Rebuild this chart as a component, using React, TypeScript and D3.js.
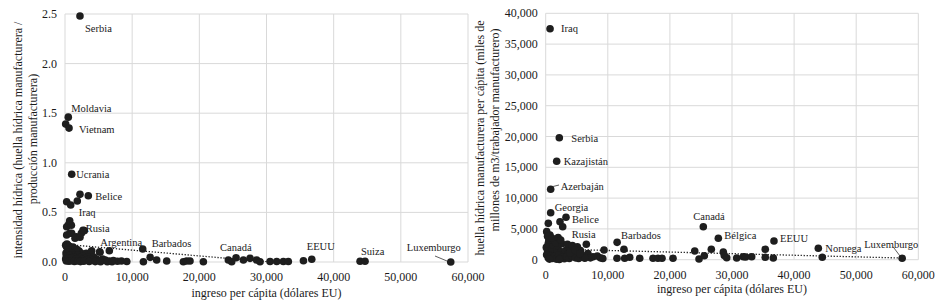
import React from 'react';
import * as d3 from 'd3';

// ---------- DATA ----------
const xTicks = [0, 10000, 20000, 30000, 40000, 50000, 60000];
const leftYTicks = [0, 0.5, 1.0, 1.5, 2.0, 2.5];
const rightYTicks = [0, 5000, 10000, 15000, 20000, 25000, 30000, 35000, 40000];

// Left chart: intensidad hídrica
const leftLabelNames = ['Serbia', 'Moldavia', 'Vietnam', 'Ucrania', 'Belice', 'Iraq', 'Rusia', 'Argentina', 'Barbados', 'Canadá', 'EEUU', 'Suiza', 'Luxemburgo'];
const leftLabelIncome = [2230, 490, 600, 1000, 3470, 700, 2870, 6600, 11570, 25470, 36740, 44670, 57430];
const leftLabelValue = [2.48, 1.46, 1.35, 0.885, 0.668, 0.415, 0.316, 0.114, 0.131, 0.043, 0.027, 0.007, 0.0];
const leftOtherPoints: [number, number][] = [
  [100, 1.39], [2230, 0.682], [1830, 0.615], [250, 0.608], [850, 0.575],
  [550, 0.38], [250, 0.356], [950, 0.37],
  [250, 0.272], [700, 0.29], [1000, 0.29], [1490, 0.239], [1680, 0.255], [2230, 0.249], [2430, 0.29], [2680, 0.32],
  [3970, 0.114], [5210, 0.098],
  [100, 0.17], [300, 0.18], [500, 0.165], [250, 0.15], [700, 0.155], [900, 0.14], [1200, 0.15], [1500, 0.13],
  [400, 0.12], [1800, 0.125], [2100, 0.11], [2430, 0.088], [3170, 0.088], [3920, 0.104], [5160, 0.104], [1680, 0.104],
  [150, 0.09], [600, 0.1], [1100, 0.085], [1400, 0.07], [1900, 0.07], [2700, 0.06], [3400, 0.05], [4300, 0.05],
  [200, 0.06], [700, 0.065], [1300, 0.05], [2200, 0.045], [3000, 0.035], [3700, 0.03], [4700, 0.03], [5600, 0.03],
  [100, 0.03], [450, 0.035], [900, 0.04], [1600, 0.03], [2500, 0.025], [3300, 0.02], [4100, 0.015], [5000, 0.012],
  [6000, 0.02], [6600, 0.01], [7200, 0.015], [7800, 0.008], [8400, 0.01], [9200, 0.005],
  [200, 0.01], [600, 0.008], [1000, 0.012], [1400, 0.005], [1900, 0.01], [2300, 0.004], [2800, 0.008], [3600, 0.005],
  [4500, 0.004], [5300, 0.003], [6300, 0.003], [7000, 0.002],
  [11670, 0.003], [12680, 0.047], [13650, 0.02], [15140, 0.01], [17620, 0.003], [18110, 0.01], [18610, 0.01], [20600, 0.003],
  [24320, 0.02], [24820, 0.003], [26560, 0.02], [27550, 0.037], [28540, 0.02], [29040, 0.003],
  [30530, 0.005], [31520, 0.005], [32510, 0.005], [33250, 0.005], [35500, 0.013], [43930, 0.007],
];
const leftTrend: [number, number][] = [[0, 0.178], [30500, 0]];

// Right chart: huella hídrica manufacturera per cápita
const rightLabelNames = ['Iraq', 'Serbia', 'Kazajistán', 'Azerbaján', 'Georgia', 'Belice', 'Rusia', 'Barbados', 'Canadá', 'Bélgica', 'EEUU', 'Noruega', 'Luxemburgo'];
const rightLabelIncome = [700, 2190, 1770, 800, 800, 3270, 2420, 11500, 25380, 27800, 36760, 43900, 57400];
const rightLabelValue = [37500, 19800, 15970, 11430, 7630, 6880, 3200, 2820, 5360, 3470, 3040, 1850, 230];
const rightOtherPoints: [number, number][] = [
  [420, 5900], [2300, 6170], [2740, 5360], [160, 4550], [690, 4000], [420, 2660], [970, 1850], [900, 2920],
  [6540, 2500], [9390, 1570], [12600, 1690], [7620, 490], [8310, 600],
  [11480, 230], [12720, 230], [13530, 390], [15140, 230], [17280, 230], [18080, 230], [18730, 230], [20500, 230],
  [24000, 1410], [24690, 110], [25540, 650], [26670, 1690], [28600, 1250], [28760, 700], [29150, 320],
  [30760, 280], [31820, 490], [32200, 440], [33170, 490], [35360, 1690], [35360, 390], [36650, 280], [44540, 390],
  [100, 2000], [300, 1500], [500, 2500], [700, 1200], [1000, 1800], [1200, 2400], [1500, 1000], [1800, 1600],
  [2000, 2200], [2500, 1300], [2800, 800], [3200, 1500], [3600, 900], [4000, 1800], [4500, 1200], [5000, 700],
  [5600, 1500], [6000, 400], [6800, 1000], [7200, 300], [150, 800], [400, 300], [800, 600], [1100, 200],
  [1400, 500], [1700, 100], [2100, 700], [2400, 300], [2700, 400], [3000, 150], [3400, 500], [3800, 200],
  [4200, 600], [4800, 300], [5300, 200], [5800, 800], [6300, 250], [8800, 300], [9200, 200], [500, 3200],
  [1300, 3100], [1600, 2800], [2600, 2600], [3500, 2500], [4300, 2300], [5100, 2100], [600, 100], [2200, 50],
  [3900, 1100], [4700, 1600], [5500, 1000], [300, 3800], [1000, 3500], [2000, 3600],
];
const rightTrend: [number, number][] = [[0, 1760], [57400, 270]];

// ---------- LAYOUT / STYLE ----------
const FONT = "'Liberation Serif', 'DejaVu Serif', serif";
const GRID = '#d9d9d9';
const DOT = '#1e1e1e';
const R = 3.8;

const leftLabelOffsets: Record<string, [number, number]> = {
  Serbia: [5, 16], Moldavia: [3, -5], Vietnam: [10, 5], Ucrania: [4.5, 3.5], Belice: [7, 4],
  Iraq: [9, -4.5], Rusia: [1.5, 1.5], Argentina: [-9, -5], Barbados: [9, -2.5], 'Canadá': [-16, -7],
  EEUU: [-5, -9], Suiza: [-4, -6.5], Luxemburgo: [-44, -11],
};
const rightLabelOffsets: Record<string, [number, number]> = {
  Iraq: [11, 3.5], Serbia: [12, 4], 'Kazajistán': [7, 4], 'Azerbaján': [10, 0.5], Georgia: [4, -2],
  Belice: [6, 6], Rusia: [11, -1.5], Barbados: [4, -3], 'Canadá': [-10, -7], 'Bélgica': [6, 1],
  EEUU: [6, 1], Noruega: [7, 3.5], Luxemburgo: [-38, -10.5],
};

type ChartProps = {
  x0: number; x1: number; yTop: number; yBottom: number;
  yTicks: number[]; yMax: number; yFormat: (v: number) => string;
  names: string[]; incomes: number[]; values: number[]; others: [number, number][];
  trend: [number, number][]; offsets: Record<string, [number, number]>;
  titleLines: { text: string; x: number; cy: number }[];
  xTitleY: number;
  leaders: { name: string; from: [number, number]; to: [number, number] }[];
};

const txt = { fontFamily: FONT };

function Chart(p: ChartProps) {
  const x = d3.scaleLinear().domain([0, 60000]).range([p.x0, p.x1]);
  const y = d3.scaleLinear().domain([0, p.yMax]).range([p.yBottom, p.yTop]);
  const fmtX = d3.format(',');
  const line = d3.line<[number, number]>().x(d => x(d[0])).y(d => y(d[1]));
  const clipId = `clip-${Math.round(p.x0)}`;
  return (
    <g style={txt} fill="#1a1a1a">
      <defs>
        <clipPath id={clipId}>
          <rect x={p.x0} y={p.yTop} width={p.x1 - p.x0} height={p.yBottom - p.yTop} />
        </clipPath>
      </defs>
      {p.yTicks.map(t => (
        <line key={'h' + t} x1={p.x0} x2={p.x1} y1={y(t)} y2={y(t)} stroke={GRID} strokeWidth={1} />
      ))}
      {xTicks.map(t => (
        <line key={'v' + t} x1={x(t)} x2={x(t)} y1={p.yTop} y2={p.yBottom} stroke={GRID} strokeWidth={1} />
      ))}
      {p.yTicks.map(t => (
        <text key={'yl' + t} style={txt} x={p.x0 - 8} y={y(t) + 4} textAnchor="end" fontSize={12}>{p.yFormat(t)}</text>
      ))}
      {xTicks.map(t => (
        <text key={'xl' + t} style={txt} x={x(t)} y={p.yBottom + 19} textAnchor="middle" fontSize={12}>{fmtX(t)}</text>
      ))}
      <text style={txt} x={(p.x0 + p.x1) / 2} y={p.xTitleY} textAnchor="middle" fontSize={12}>ingreso per cápita (dólares EU)</text>
      {p.titleLines.map((l, i) => (
        <text key={'t' + i} style={txt} transform={`translate(${l.x},${l.cy}) rotate(-90)`} textAnchor="middle" fontSize={12}>{l.text}</text>
      ))}
      <path d={line(p.trend) || ''} fill="none" stroke="#222" strokeWidth={1.3} strokeDasharray="1.3,1.7" clipPath={`url(#${clipId})`} />
      {p.others.map((d, i) => (
        <circle key={'o' + i} cx={x(d[0])} cy={y(d[1])} r={R} fill={DOT} />
      ))}
      {p.names.map((n, i) => (
        <circle key={'c' + n} cx={x(p.incomes[i])} cy={y(p.values[i])} r={R} fill={DOT} />
      ))}
      {p.leaders.map(l => (
        <line key={'ld' + l.name} x1={l.from[0]} y1={l.from[1]} x2={l.to[0]} y2={l.to[1]} stroke="#333" strokeWidth={0.8} />
      ))}
      {p.names.map((n, i) => {
        const o = p.offsets[n] || [5, 0];
        return (
          <text key={'n' + n} style={txt} x={x(p.incomes[i]) + o[0]} y={y(p.values[i]) + o[1]} fontSize={10.5}>{n}</text>
        );
      })}
    </g>
  );
}

export default function App() {
  return (
    <svg width={942} height={303} style={{ position: 'absolute', left: 0, top: 0, background: '#fff' }}>
      <rect width={942} height={303} fill="#fff" />
      <Chart
        x0={65} x1={468} yTop={14} yBottom={262}
        yTicks={leftYTicks} yMax={2.5} yFormat={d3.format('.1f')}
        names={leftLabelNames} incomes={leftLabelIncome} values={leftLabelValue} others={leftOtherPoints}
        trend={leftTrend} offsets={leftLabelOffsets}
        titleLines={[
          { text: 'intensidad hídrica (huella hídrica manufacturera /', x: 22, cy: 140 },
          { text: 'producción manufacturera)', x: 37, cy: 139 },
        ]}
        xTitleY={297}
        leaders={[{ name: 'lux', from: [435, 256], to: [447, 261] }]}
      />
      <Chart
        x0={545.7} x1={918.3} yTop={13.3} yBottom={259.7}
        yTicks={rightYTicks} yMax={40000} yFormat={d3.format(',')}
        names={rightLabelNames} incomes={rightLabelIncome} values={rightLabelValue} others={rightOtherPoints}
        trend={rightTrend} offsets={rightLabelOffsets}
        titleLines={[
          { text: 'huella hídrica manufacturera per cápita (miles de', x: 484, cy: 138 },
          { text: 'millones de m3/trabajador manufacturero)', x: 499, cy: 130 },
        ]}
        xTitleY={293}
        leaders={[
          { name: 'lux', from: [893, 246.7], to: [900, 256] },
          { name: 'aze', from: [553, 186.5], to: [559, 185] },
        ]}
      />
    </svg>
  );
}
